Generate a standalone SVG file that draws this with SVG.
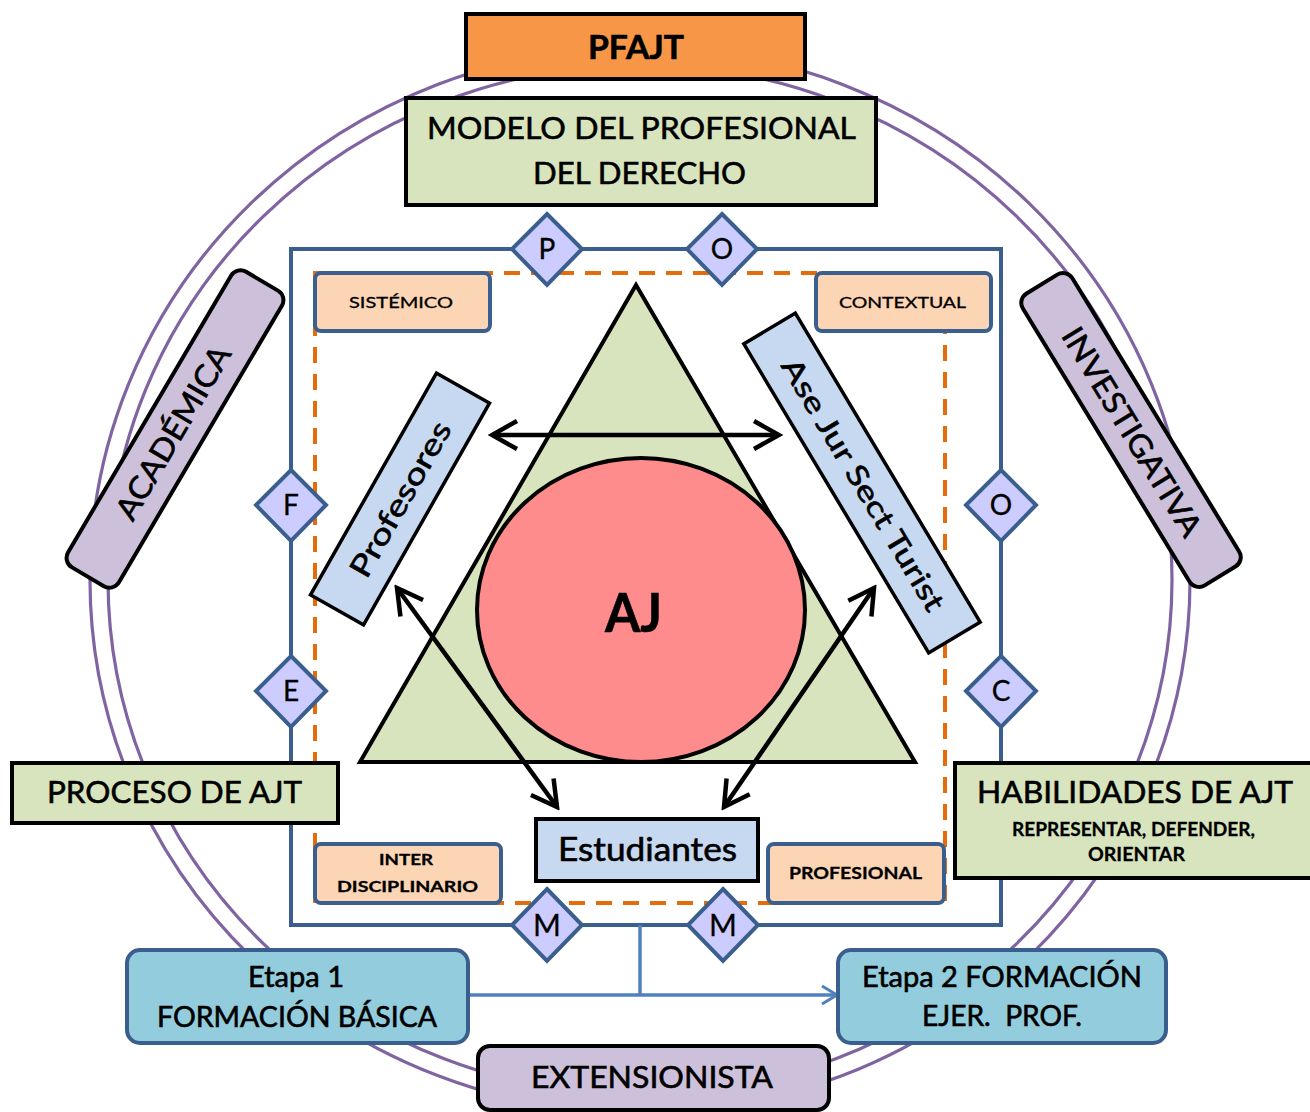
<svg xmlns="http://www.w3.org/2000/svg" width="1310" height="1112" viewBox="0 0 1310 1112">
<defs>
<style>
.t{font-family:Lato,"Open Sans","Liberation Sans",sans-serif;fill:#000;text-anchor:middle;stroke:#000;stroke-width:0.6}
.s{stroke-width:0.3}
.bk{stroke:#000;stroke-width:4}
.bl{stroke:#3A5F8F;stroke-width:4}
.green{fill:#D7E4BD}
.peach{fill:#FCD5B5}
.lblue{fill:#C6D9F1}
.lav{fill:#CCC0DA}
.teal{fill:#93CDDD}
.dia{fill:#CCCCFF;stroke:#3A5F8F;stroke-width:4}
.ring{fill:none;stroke:#8064A2;stroke-width:3.2}
.arr{fill:none;stroke:#000;stroke-width:4.5}
</style>
<marker id="ah" markerUnits="userSpaceOnUse" viewBox="-30 -18 34 36" refX="0" refY="0" markerWidth="34" markerHeight="36" orient="auto-start-reverse">
<path d="M-25,-14 L0,0 L-25,14" fill="none" stroke="#000" stroke-width="4.5"/>
</marker>
<marker id="bh" markerUnits="userSpaceOnUse" viewBox="-18 -12 22 24" refX="0" refY="0" markerWidth="22" markerHeight="24" orient="auto">
<path d="M-15,-9 L0,0 L-15,9" fill="none" stroke="#4F81BD" stroke-width="3"/>
</marker>
</defs>
<rect width="1310" height="1112" fill="#fff"/>

<g id="rings">
<ellipse class="ring" cx="640" cy="580" rx="550" ry="533"/>
<ellipse class="ring" cx="640" cy="580" rx="532" ry="515"/>
</g>

<g id="frame">
<rect x="291" y="249" width="710" height="676" fill="none" class="bl"/>
<rect x="315" y="273" width="630" height="630" fill="none" stroke="#E46C0A" stroke-width="4" stroke-dasharray="16 11"/>
</g>

<g id="core">
<polygon points="636,285 360,762 915,762" class="green bk" stroke-linejoin="miter"/>
<ellipse cx="641" cy="610" rx="164" ry="152" fill="#FF8C8C" class="bk"/>
<text class="t" x="633.5" y="632" font-size="54" font-weight="bold" textLength="57" lengthAdjust="spacingAndGlyphs">AJ</text>
</g>

<g id="connectors">
<line x1="492" y1="435" x2="779" y2="435" class="arr" marker-start="url(#ah)" marker-end="url(#ah)"/>
<line x1="397" y1="588" x2="557" y2="807" class="arr" marker-start="url(#ah)" marker-end="url(#ah)"/>
<line x1="874" y1="588" x2="724" y2="807" class="arr" marker-start="url(#ah)" marker-end="url(#ah)"/>
<line x1="640" y1="925" x2="640" y2="995" stroke="#4F81BD" stroke-width="3.5"/>
<line x1="468" y1="995" x2="837" y2="995" stroke="#4F81BD" stroke-width="3.5" marker-end="url(#bh)"/>
</g>

<g id="pfajt">
<rect x="466" y="14" width="339" height="65" fill="#F79646" class="bk"/>
<text class="t" x="636" y="59" font-size="33" font-weight="bold" textLength="96" lengthAdjust="spacingAndGlyphs">PFAJT</text>
</g>

<g id="modelo">
<rect x="406" y="98" width="470" height="107" class="green bk"/>
<text class="t" x="641.5" y="139" font-size="31" textLength="429" lengthAdjust="spacingAndGlyphs">MODELO DEL PROFESIONAL</text>
<text class="t" x="639.5" y="184" font-size="31" textLength="213" lengthAdjust="spacingAndGlyphs">DEL DERECHO</text>
</g>

<g id="sistemico">
<rect x="315" y="273" width="175" height="58" rx="6" class="peach bl"/>
<text class="t s" x="401" y="308" font-size="15" textLength="104" lengthAdjust="spacingAndGlyphs">SISTÉMICO</text>
</g>
<g id="contextual">
<rect x="816" y="273" width="175" height="58" rx="6" class="peach bl"/>
<text class="t s" x="902.5" y="308" font-size="15" textLength="127" lengthAdjust="spacingAndGlyphs">CONTEXTUAL</text>
</g>
<g id="inter">
<rect x="315" y="844" width="186" height="59" rx="6" class="peach bl"/>
<text class="t s" x="406" y="865" font-size="15" font-weight="bold" textLength="54" lengthAdjust="spacingAndGlyphs">INTER</text>
<text class="t s" x="407.5" y="892" font-size="15" font-weight="bold" textLength="141" lengthAdjust="spacingAndGlyphs">DISCIPLINARIO</text>
</g>
<g id="profesional">
<rect x="768" y="844" width="176" height="59" rx="6" class="peach bl"/>
<text class="t s" x="855.5" y="879" font-size="17" font-weight="bold" textLength="133" lengthAdjust="spacingAndGlyphs">PROFESIONAL</text>
</g>

<g id="profesores" transform="translate(400,499) rotate(-60.4)">
<rect x="-127.5" y="-30.5" width="255" height="61" class="lblue" stroke="#000" stroke-width="3.5"/>
<text class="t" x="0" y="11" font-size="30" textLength="174" lengthAdjust="spacingAndGlyphs">Profesores</text>
</g>
<g id="asejur" transform="translate(862,483) rotate(59.1)">
<rect x="-180" y="-30" width="360" height="60" class="lblue" stroke="#000" stroke-width="3.5"/>
<text class="t" x="2" y="10" font-size="29" textLength="289" lengthAdjust="spacingAndGlyphs">Ase Jur Sect Turist</text>
</g>

<g id="academica" transform="translate(175,429) rotate(-59.5)">
<rect x="-171.5" y="-29.5" width="343" height="59" rx="11" class="lav bk"/>
<text class="t" x="-4" y="11" font-size="31" textLength="196" lengthAdjust="spacingAndGlyphs">ACADÉMICA</text>
</g>
<g id="investigativa" transform="translate(1131,430) rotate(58.6)">
<rect x="-171" y="-29" width="342" height="58" rx="11" class="lav bk"/>
<text class="t" x="2" y="11" font-size="31" textLength="239" lengthAdjust="spacingAndGlyphs">INVESTIGATIVA</text>
</g>

<g id="dP"><polygon points="547,214 582,249 547,285 512,249" class="dia"/><text class="t s" x="547" y="259" font-size="28">P</text></g>
<g id="dO1"><polygon points="722,214 757,249 722,285 687,249" class="dia"/><text class="t s" x="722" y="259" font-size="28">O</text></g>
<g id="dF"><polygon points="291,470 326,505 291,541 256,505" class="dia"/><text class="t s" x="291" y="515" font-size="28">F</text></g>
<g id="dE"><polygon points="291,656 326,691 291,727 256,691" class="dia"/><text class="t s" x="291" y="701" font-size="28">E</text></g>
<g id="dO2"><polygon points="1001,470 1036,505 1001,541 966,505" class="dia"/><text class="t s" x="1001" y="515" font-size="28">O</text></g>
<g id="dC"><polygon points="1001,656 1036,691 1001,727 966,691" class="dia"/><text class="t s" x="1001" y="701" font-size="28">C</text></g>
<g id="dM1"><polygon points="547,889 582,925 547,961 512,925" class="dia"/><text class="t s" x="547" y="936" font-size="30">M</text></g>
<g id="dM2"><polygon points="723,889 758,925 723,961 688,925" class="dia"/><text class="t s" x="723" y="936" font-size="30">M</text></g>

<g id="estudiantes">
<rect x="536" y="819" width="222" height="62" class="lblue bk"/>
<text class="t" x="647.5" y="861" font-size="32" textLength="179" lengthAdjust="spacingAndGlyphs">Estudiantes</text>
</g>

<g id="proceso">
<rect x="12" y="763" width="326" height="60" class="green bk"/>
<text class="t" x="174.5" y="803" font-size="31" textLength="255" lengthAdjust="spacingAndGlyphs">PROCESO DE AJT</text>
</g>

<g id="habilidades">
<rect x="955" y="763" width="360" height="115" class="green bk"/>
<text class="t" x="1135" y="803" font-size="30" textLength="316" lengthAdjust="spacingAndGlyphs">HABILIDADES DE AJT</text>
<text class="t s" x="1133.5" y="836" font-size="19" font-weight="bold" textLength="243" lengthAdjust="spacingAndGlyphs">REPRESENTAR, DEFENDER,</text>
<text class="t s" x="1136.5" y="861" font-size="19" font-weight="bold" textLength="97" lengthAdjust="spacingAndGlyphs">ORIENTAR</text>
</g>

<g id="etapa1">
<rect x="127" y="950" width="341" height="93" rx="13" class="teal bl"/>
<text class="t" x="296" y="987" font-size="28" textLength="96" lengthAdjust="spacingAndGlyphs">Etapa 1</text>
<text class="t" x="297" y="1027" font-size="28" textLength="280" lengthAdjust="spacingAndGlyphs">FORMACIÓN BÁSICA</text>
</g>
<g id="etapa2">
<rect x="838" y="950" width="328" height="93" rx="13" class="teal bl"/>
<text class="t" x="1002" y="987" font-size="28" textLength="280" lengthAdjust="spacingAndGlyphs">Etapa 2 FORMACIÓN</text>
<text class="t" x="1002" y="1026" font-size="28" textLength="160" lengthAdjust="spacingAndGlyphs" style="white-space:pre">EJER.  PROF.</text>
</g>

<g id="extensionista">
<rect x="478" y="1046" width="351" height="64" rx="12" class="lav bk"/>
<text class="t" x="652" y="1088" font-size="30" textLength="242" lengthAdjust="spacingAndGlyphs">EXTENSIONISTA</text>
</g>
</svg>
